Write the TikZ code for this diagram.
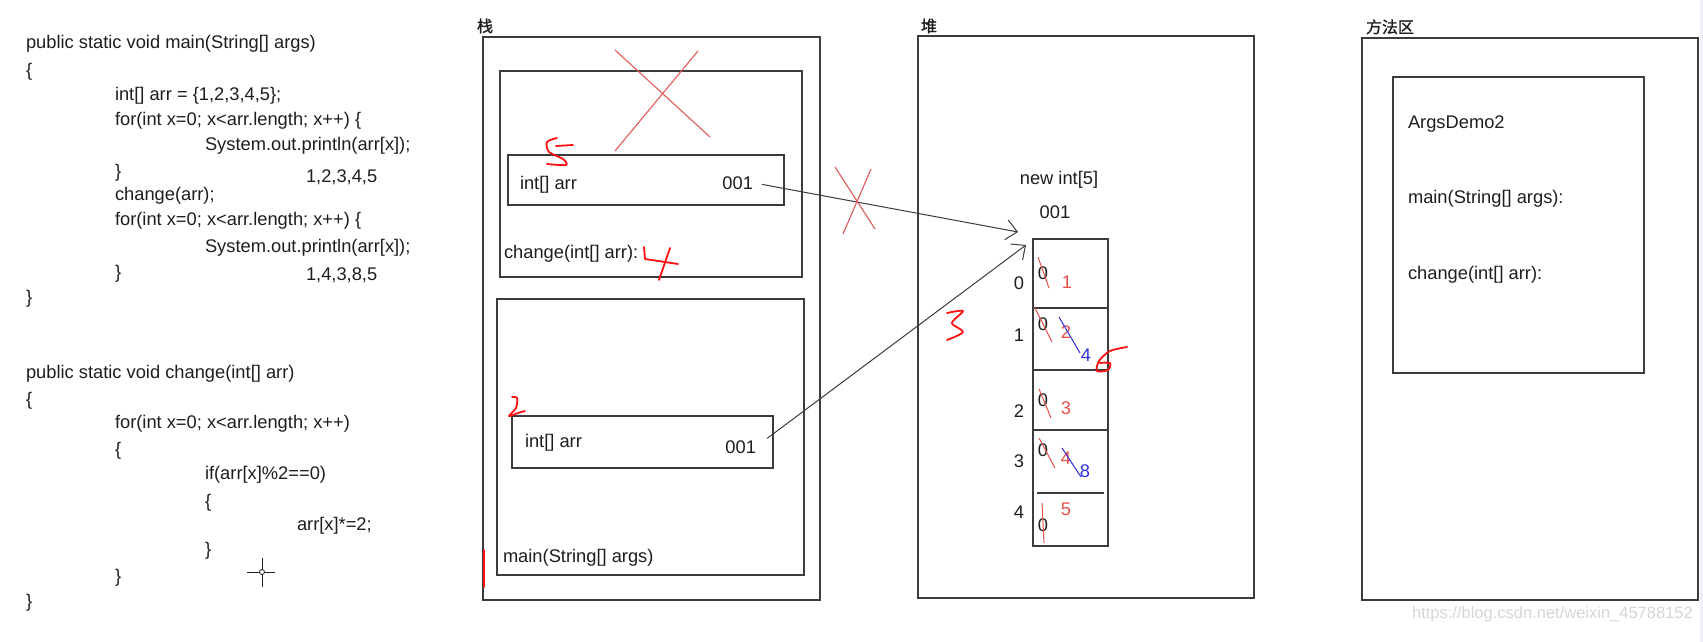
\documentclass[tikz,border=0pt]{standalone}
\usepackage{fontspec}
\setmainfont{Liberation Sans}
\newfontfamily\cjk[FakeBold=1.2]{Noto Sans CJK SC}
\usetikzlibrary{arrows.meta}
\definecolor{boxc}{HTML}{3C3C3C}
\definecolor{txtc}{HTML}{1E1E1E}
\definecolor{hand}{HTML}{FF1010}
\definecolor{thinred}{HTML}{E25A5A}
\definecolor{valred}{HTML}{E8504A}
\definecolor{valblue}{HTML}{3030E0}
\definecolor{wm}{HTML}{D6D6D6}
\definecolor{strip}{HTML}{EEF1F6}
\begin{document}
\begin{tikzpicture}[x=1pt,y=-1pt,
  box/.style={draw=boxc,line width=1.6pt,rectangle,inner sep=0pt,outer sep=0pt},
  txt/.style={inner sep=0pt,outer sep=0pt,text=txtc,font=\fontsize{18.3}{22}\selectfont,anchor=base west},
  idx/.style={inner sep=0pt,outer sep=0pt,text=txtc,font=\fontsize{18.3}{22}\selectfont},
  rval/.style={idx,text=valred},
  bval/.style={idx,text=valblue},
  zh/.style={inner sep=0pt,outer sep=0pt,text=txtc,font=\cjk\fontsize{16}{18}\selectfont,anchor=base west},
  conn/.style={draw=boxc,line width=1pt,-{Straight Barb[length=11pt,width=20pt,line width=1pt]}},
  sep/.style={draw=boxc,line width=1.6pt},
  cross/.style={draw=thinred,line width=1.1pt},
  rslash/.style={draw=valred,line width=1pt},
  bslash/.style={draw=valblue,line width=1pt},
  handw/.style={draw=hand,line width=1.8pt,line cap=round,line join=round},
]
\useasboundingbox (0,0) rectangle (1703,642);
\fill[white] (0,0) rectangle (1703,642);
\fill[strip] (1700,0) rectangle (1703,642);

% ---------- code ----------
\node[txt] (c1) at (26,49) {public static void main(String[] args)};
\node[txt] (c2) at (26,77) {\{};
\node[txt] (c3) at (115,100) {int[] arr = \{1,2,3,4,5\};};
\node[txt] (c4) at (115,125) {for(int x=0; x<arr.length; x++) \{};
\node[txt] (c5) at (205,150) {System.out.println(arr[x]);};
\node[txt] (c6) at (115,177) {\}};
\node[txt] (c7) at (306,182) {1,2,3,4,5};
\node[txt] (c8) at (115,200) {change(arr);};
\node[txt] (c9) at (115,225) {for(int x=0; x<arr.length; x++) \{};
\node[txt] (c10) at (205,252) {System.out.println(arr[x]);};
\node[txt] (c11) at (115,278) {\}};
\node[txt] (c12) at (306,280) {1,4,3,8,5};
\node[txt] (c13) at (26,303) {\}};

\node[txt] (d1) at (26,378) {public static void change(int[] arr)};
\node[txt] (d2) at (26,405) {\{};
\node[txt] (d3) at (115,428) {for(int x=0; x<arr.length; x++)};
\node[txt] (d4) at (115,455) {\{};
\node[txt] (d5) at (205,479) {if(arr[x]\%2==0)};
\node[txt] (d6) at (205,507) {\{};
\node[txt] (d7) at (297,530) {arr[x]*=2;};
\node[txt] (d8) at (205,555) {\}};
\node[txt] (d9) at (115,582) {\}};
\node[txt] (d10) at (26,607) {\}};

% cursor
\draw[txtc,line width=1pt] (247,572) -- (275,572) (262,558) -- (262,587);
\draw[txtc,line width=0.8pt,fill=white] (262,572) circle (2.5);

% ---------- stack ----------
\node[zh] (lstack) at (477,32) {栈};
\node[box,minimum width=337pt,minimum height=563pt] (stack) at (651.5,318.5) {};
\node[box,minimum width=302pt,minimum height=206pt] (chg) at (651,174) {};
\node[box,minimum width=276pt,minimum height=50pt] (uarr) at (646,180) {};
\node[txt] (uname) at (520,189) {int[] arr};
\node[txt,anchor=base east] (u001) at (753,189) {001};
\node[txt] (chglbl) at (504,258) {change(int[] arr):};
\node[box,minimum width=307pt,minimum height=276pt] (mainf) at (650.5,437) {};
\node[box,minimum width=261pt,minimum height=52pt] (larr) at (642.5,442) {};
\node[txt] (lname) at (525,447) {int[] arr};
\node[txt,anchor=base east] (l001) at (756,453) {001};
\node[txt] (mainlbl) at (503,562) {main(String[] args)};

% red cross over change frame
\draw[cross] (615,50) -- (710,137);
\draw[cross] (698,51) -- (615,151);

% ---------- heap ----------
\node[zh] (lheap) at (921,32) {堆};
\node[box,minimum width=336pt,minimum height=562pt] (heap) at (1086,317) {};
\node[txt,anchor=base] (newint) at (1059,184) {new int[5]};
\node[txt,anchor=base] (h001) at (1055,218) {001};
\node[box,minimum width=75pt,minimum height=307pt] (arr) at (1070.5,392.5) {};
\draw[sep] (1033,308) -- (1108,308);
\draw[sep] (1033,370) -- (1108,370);
\draw[sep] (1033,430) -- (1108,430);
\draw[sep] (1037,493) -- (1104,493);

\node[idx] (i0) at (1019,283) {0};
\node[idx] (i1) at (1019,335) {1};
\node[idx] (i2) at (1019,411) {2};
\node[idx] (i3) at (1019,461) {3};
\node[idx] (i4) at (1019,512) {4};

\node[idx] (v0) at (1043,273) {0};
\node[rval] (n0) at (1067,282) {1};
\draw[rslash] (1038,257) -- (1049,288);

\node[idx] (v1) at (1043,324) {0};
\node[rval] (n1) at (1066,332) {2};
\node[bval] (m1) at (1086,355) {4};
\draw[rslash] (1035,308) -- (1052,342);
\draw[bslash] (1059,317) -- (1080,353);

\node[idx] (v2) at (1043,400) {0};
\node[rval] (n2) at (1066,408) {3};
\draw[rslash] (1039,389) -- (1051,418);

\node[idx] (v3) at (1043,450) {0};
\node[rval] (n3) at (1066,458) {4};
\node[bval] (m3) at (1085,471) {8};
\draw[rslash] (1039,438) -- (1055,468);
\draw[bslash] (1062,448) -- (1081,477);

\node[rval] (n4) at (1066,509) {5};
\node[idx] (v4) at (1043,525) {0};
\draw[rslash] (1042,503) -- (1044,543);

% ---------- method area ----------
\node[zh] (lmeth) at (1366,33) {方法区};
\node[box,minimum width=336pt,minimum height=562pt] (meth) at (1530,319) {};
\node[box,minimum width=251pt,minimum height=296pt] (cls) at (1518.5,225) {};
\node[txt] (clsname) at (1408,128) {ArgsDemo2};
\node[txt] (mmain) at (1408,203) {main(String[] args):};
\node[txt] (mchg) at (1408,279) {change(int[] arr):};

% ---------- connectors ----------
\coordinate (tip1) at (1018,232);
\coordinate (tip2) at (1026,245);
\draw[conn,shorten <=9pt] (u001.east) -- (tip1);
\draw[conn,shorten <=14pt] (l001.east) -- (tip2);

% red cross over first arrow
\draw[cross] (835,167) -- (875,229);
\draw[cross] (871,169) -- (843,234);

% ---------- handwritten red marks ----------
% 5
\draw[handw] plot[smooth] coordinates {(557,138) (547,142) (549,152) (563,159) (566,165) (547,164)};
\draw[handw] (556,146) -- (573,145);
% 4
\draw[handw] (644,247) -- (645,259) -- (678,264);
\draw[handw] (670,248) -- (659,280);
% 2
\draw[handw] plot[smooth] coordinates {(512,397) (517,398) (516,408) (509,416) (518,413) (525,411)};
% 3
\draw[handw] plot[smooth] coordinates {(947,313) (963,311) (952,323) (963,332) (947,340)};
% 6
\draw[handw] plot[smooth] coordinates {(1127,347) (1110,351) (1099,361) (1097,371) (1108,370) (1110,363) (1100,363)};
% bar
\draw[handw] (484,550) -- (484,587);

% watermark
\node[inner sep=0pt,text=wm,font=\fontsize{16.5}{18}\selectfont,anchor=base east] (wmark) at (1693,618) {https://blog.csdn.net/weixin\_45788152};
\end{tikzpicture}
\end{document}
